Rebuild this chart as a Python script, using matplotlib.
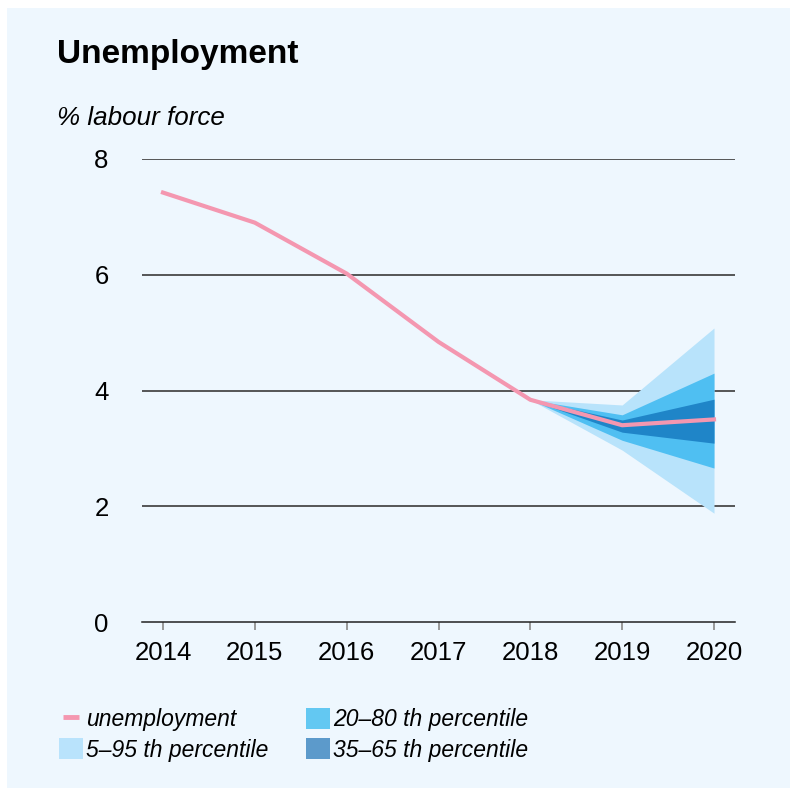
import matplotlib.pyplot as plt
from matplotlib.patches import Patch, Rectangle
from matplotlib.lines import Line2D

# -------------------------------
# DATA
# -------------------------------
years = [2014, 2015, 2016, 2017, 2018, 2019, 2020]
unemployment = [7.42, 6.90, 6.02, 4.84, 3.84, 3.40, 3.50]

fan_years = [2018, 2019, 2020]
p05 = [3.84, 2.97, 1.88]
p95 = [3.84, 3.75, 5.08]
p20 = [3.84, 3.14, 2.66]
p80 = [3.84, 3.58, 4.30]
p35 = [3.84, 3.28, 3.09]
p65 = [3.84, 3.49, 3.85]

y_ticks = [0, 2, 4, 6, 8]

# -------------------------------
# STYLE
# -------------------------------
plt.rcParams['font.family'] = ['Liberation Sans', 'DejaVu Sans']
bg = '#eef7fe'
line_col = '#f497b0'
c_outer, c_mid, c_inner = '#b8e3fb', '#4fbff2', '#1f85c8'

fig = plt.figure(figsize=(7.92, 7.96), dpi=100)
fig.patch.set_facecolor('white')
fig.patches.append(Rectangle((7 / 792, 8 / 796), 783 / 792, 780 / 796,
                             transform=fig.transFigure, facecolor=bg,
                             edgecolor='none', zorder=-10))

ax = fig.add_axes([142 / 792, 1 - 622 / 796, 593 / 792, 463 / 796])
ax.set_facecolor('none')

# fan chart
ax.fill_between(fan_years, p05, p95, color=c_outer, linewidth=0, zorder=2)
ax.fill_between(fan_years, p20, p80, color=c_mid, linewidth=0, zorder=3)
ax.fill_between(fan_years, p35, p65, color=c_inner, linewidth=0, zorder=4)

# gridlines
for t in y_ticks[1:]:
    ax.axhline(t, color='#3a3a3a', linewidth=1.2, zorder=1)

ax.plot(years, unemployment, color=line_col, linewidth=3.0, zorder=5)

ax.set_xlim(2014 - 21 / 91.83, 2020 + 21 / 91.83)
ax.set_ylim(0, 8)
ax.set_xticks(years)
ax.set_yticks(y_ticks)
for s in ['top', 'right', 'left']:
    ax.spines[s].set_visible(False)
ax.spines['bottom'].set_color('#222222')
ax.spines['bottom'].set_linewidth(1.1)
ax.tick_params(axis='x', length=6, width=1.2, color='#888888', pad=8,
               labelsize=18.5)
ax.tick_params(axis='y', length=0, pad=24, labelsize=18.5)

# titles
fig.text(57 / 792, 1 - 63 / 796, 'Unemployment', fontsize=24,
         fontweight='bold', va='baseline', ha='left')
fig.text(57 / 792, 1 - 125 / 796, '% labour force', fontsize=18.7,
         style='italic', va='baseline', ha='left')

# legend
handles = [
    Line2D([], [], color=line_col, linestyle='none', marker='_',
           markersize=12, markeredgewidth=3.5),
    Patch(facecolor='#b9e3fc', edgecolor='none'),
    Patch(facecolor='#63c8f2', edgecolor='none'),
    Patch(facecolor='#5c9acb', edgecolor='none'),
]
labels = ['unemployment', '5\u201395 th percentile',
          '20\u201380 th percentile', '35\u201365 th percentile']
leg = fig.legend(handles, labels, loc='upper left', ncol=2,
                 bbox_to_anchor=(59 / 792, 1 - 708 / 796), frameon=False,
                 prop={'size': 16.5, 'style': 'italic'},
                 handlelength=1.05, handleheight=1.0, handletextpad=0.12,
                 columnspacing=1.65, labelspacing=0.32, borderpad=0,
                 borderaxespad=0)

fig.savefig('out.png', dpi=100, facecolor=fig.get_facecolor())
